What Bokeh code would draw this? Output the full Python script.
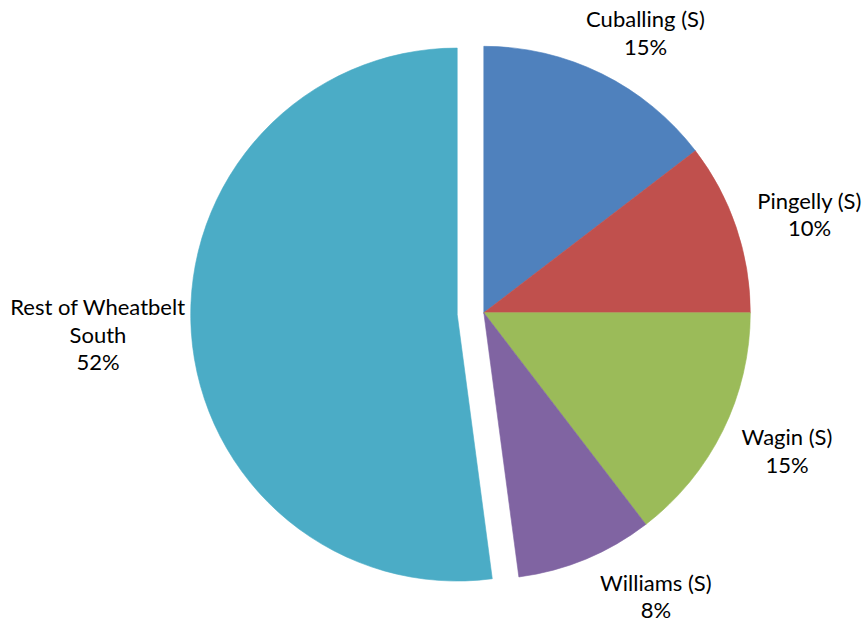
import math
from bokeh.plotting import figure
from bokeh.models import Range1d, ColumnDataSource
from bokeh.core.properties import value
from bokeh.embed import file_html
from bokeh.resources import INLINE

# ---- data ----
categories = ["Cuballing (S)", "Pingelly (S)", "Wagin (S)", "Williams (S)", "Rest of Wheatbelt\nSouth"]
shares = [14.6, 10.4, 14.6, 8.3, 52.1]
colors = ["#4F81BD", "#C0504D", "#9BBB59", "#8064A2", "#4BACC6"]
explode = [0.0, 0.0, 0.0, 0.0, 0.10]

# ---- layout ----
W, H = 864, 627
CX, CY = 483.3, H - 312.3      # pie centre (data units == pixels)
R = 266.5                      # pie radius
LINE_H = 27.5                  # label line spacing
BASE_SHIFT = 10.0              # raise labels so glyph baselines match
FONT = "Lato"
FONT_SIZE = "22px"
# label placement: distance from pie centre and angular nudge from slice bisector (degrees)
label_dist = [315.0, 337.6, 337.3, 340.0, 387.1]
label_dtheta = [-4.6, -3.5, 0.3, 7.9, 0.9]

total = float(sum(shares))
xs, ys, starts, ends, mids = [], [], [], [], []
cum = 0.0
for s, ex in zip(shares, explode):
    a0 = 90.0 - cum / total * 360.0
    cum += s
    a1 = 90.0 - cum / total * 360.0
    mid = (a0 + a1) / 2.0
    xs.append(CX + ex * R * math.cos(math.radians(mid)))
    ys.append(CY + ex * R * math.sin(math.radians(mid)))
    starts.append(math.radians(a0))
    ends.append(math.radians(a1))
    mids.append(mid)

src = ColumnDataSource(dict(x=xs, y=ys, start=starts, end=ends, color=colors))

p = figure(width=W, height=H, x_range=Range1d(0, W), y_range=Range1d(0, H),
           x_axis_location=None, y_axis_location=None, toolbar_location=None,
           output_backend="svg", min_border=0)
p.grid.visible = False
p.outline_line_color = None
p.background_fill_color = "white"
p.border_fill_color = "white"

p.wedge(x="x", y="y", radius=R, start_angle="start", end_angle="end",
        direction="clock", fill_color="color", line_color="color", line_width=0.6,
        source=src)

tx, ty, tt = [], [], []
for name, s, mid, d, dt in zip(categories, shares, mids, label_dist, label_dtheta):
    lines = name.split("\n") + ["%d%%" % round(s / total * 100)]
    ang = math.radians(mid + dt)
    lx = CX + d * math.cos(ang)
    ly = CY + d * math.sin(ang) + BASE_SHIFT
    n = len(lines)
    for i, line in enumerate(lines):
        tx.append(lx)
        ty.append(ly - (i - (n - 1) / 2.0) * LINE_H)
        tt.append(line)

p.text(x=tx, y=ty, text=tt, text_font=value(FONT), text_font_size=FONT_SIZE,
       text_align="center", text_baseline="alphabetic", text_color="#000000")

open("out.html", "w").write(file_html(p, INLINE))
